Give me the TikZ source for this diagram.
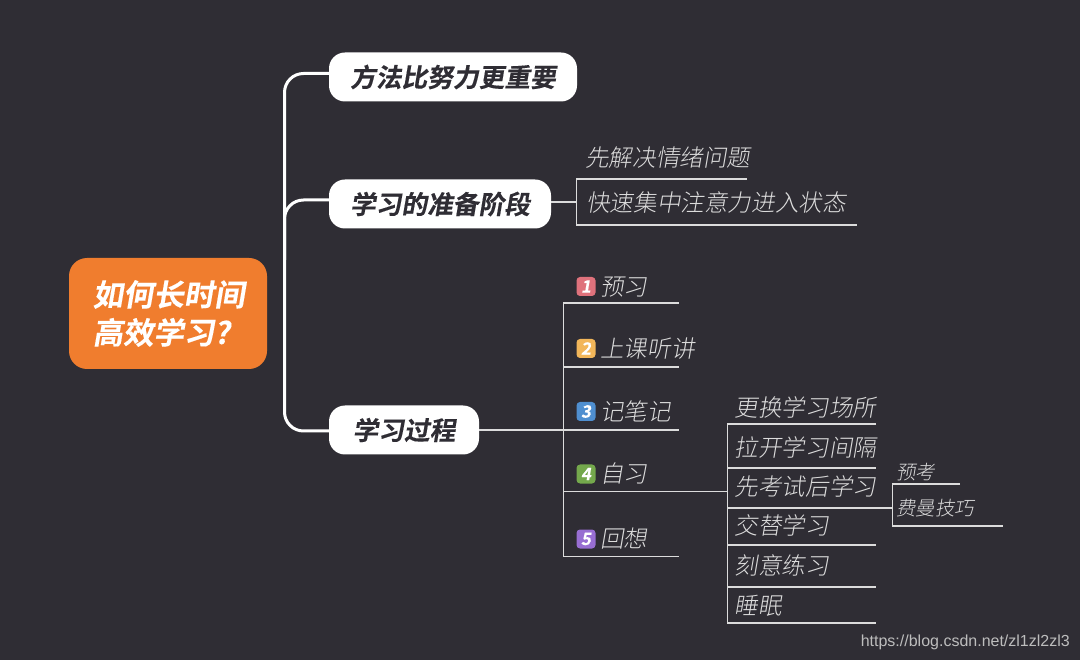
\documentclass[tikz,border=0pt]{standalone}
\usepackage{fontspec}
\setmainfont{Noto Sans CJK SC}
\newfontfamily\slreg[FakeSlant=0.17]{Noto Sans CJK SC Light}
\newfontfamily\slbold[FakeSlant=0.17,FakeBold=0.2]{Noto Sans CJK SC Bold}
\newfontfamily\wm{Liberation Sans}
\definecolor{bgc}{HTML}{2F2D34}
\definecolor{orangec}{HTML}{F07D2E}
\definecolor{linec}{HTML}{DCDCDC}
\definecolor{markc}{HTML}{BDBDBD}
\definecolor{c1}{HTML}{DF727C}
\definecolor{c2}{HTML}{F2B65A}
\definecolor{c3}{HTML}{4F8FD0}
\definecolor{c4}{HTML}{74A84C}
\definecolor{c5}{HTML}{986ED2}
\tikzset{
 x=1pt,y=-1pt,
 main/.style={fill=white,rounded corners=16pt,minimum height=49pt,inner sep=0pt,text=bgc,
   font=\fontsize{25.7}{30}\slbold},
 sub/.style={anchor=base west,text=linec,inner sep=0pt,font=\fontsize{23.6}{28}\slreg},
 small/.style={anchor=base west,text=linec,inner sep=0pt,font=\fontsize{19.5}{24}\slreg},
 badge/.style={rounded corners=3.5pt,minimum size=19pt,inner sep=0pt,text=white,
   font=\fontsize{17}{17}\slbold},
 thick line/.style={draw=white,line width=3pt},
 thin line/.style={draw=linec,line width=1.2pt},
}
\begin{document}
\begin{tikzpicture}
\useasboundingbox[fill=bgc] (0,0) rectangle (1080,660);
% root and main topics
\node[fill=orangec,rounded corners=18pt,minimum width=198pt,minimum height=111pt,inner sep=0pt] (root) at (168,313.5) {};
\node[anchor=base west,inner sep=0pt,text=white,font=\fontsize{30.4}{36}\slbold] (rootA) at (92.5,306) {如何长时间};
\node[anchor=base west,inner sep=0pt,text=white,font=\fontsize{30.4}{36}\slbold] (rootB) at (92.5,344) {高效学习?};
\node[main,minimum width=248pt] (m1) at (453,77) {方法比努力更重要};
\node[main,minimum width=222pt] (m2) at (440,204) {学习的准备阶段};
\node[main,minimum width=150pt] (m3) at (404,430) {学习过程};
% trunk
\coordinate (a1) at (331,73.5);
\coordinate (a2) at (331,200);
\coordinate (a3) at (331,431);
\coordinate (tr1) at (284.5,73.5);
\coordinate (tr2) at (284.5,200);
\coordinate (tr3) at (284.5,431);
\coordinate (tr4) at (284.5,260);
\draw[thick line,rounded corners=19pt] (a2) -- (tr2) -- (tr4);
\draw[thick line,rounded corners=19pt] (a1) -- (tr1) -- (tr3) -- (a3);
% group 2
\coordinate (g2) at (576.5,202);
\coordinate (g2s) at (551,202);
\coordinate (g2a) at (747,179);
\coordinate (g2b) at (857,225);
\coordinate (g2t) at (576.5,179);
\coordinate (g2u) at (576.5,225);
\node[sub] (s1) at (585,167) {先解决情绪问题};
\node[sub] (s2) at (586,212) {快速集中注意力进入状态};
\draw[thin line] (g2s) -- (g2);
\draw[thin line] (g2a) -- (g2t) -- (g2u) -- (g2b);
% group 3
\coordinate (la) at (563.5,303);
\coordinate (lb) at (563.5,367);
\coordinate (ld) at (563.5,491.5);
\coordinate (le) at (563.5,556.5);
\coordinate (ra) at (679,303);
\coordinate (rb) at (679,367);
\coordinate (rc) at (679,430);
\coordinate (rd) at (727.5,491.5);
\coordinate (re) at (679,556.5);
\coordinate (m3e) at (479,430);
\draw[thin line] (m3e) -- (rc);
\draw[thin line] (ra) -- (la) -- (le) -- (re);
\draw[thin line] (lb) -- (rb);
\draw[thin line] (ld) -- (rd);
\node[badge,fill=c1] (b1) at (586,286.5) {1};
\node[badge,fill=c2] (b2) at (586,348.5) {2};
\node[badge,fill=c3] (b3) at (586,411.5) {3};
\node[badge,fill=c4] (b4) at (586,474) {4};
\node[badge,fill=c5] (b5) at (586,539) {5};
\node[sub] (t1) at (600,295.5) {预习};
\node[sub] (t2) at (600,357.5) {上课听讲};
\node[sub] (t3) at (600,420.5) {记笔记};
\node[sub] (t4) at (600,482.5) {自习};
\node[sub] (t5) at (600,547.5) {回想};
% group 4
\coordinate (q0) at (727.5,424);
\coordinate (q0r) at (876,424);
\coordinate (q1) at (727.5,468);
\coordinate (q1r) at (876,468);
\coordinate (q2) at (727.5,508);
\coordinate (q2r) at (892.5,508);
\coordinate (q3) at (727.5,545);
\coordinate (q3r) at (876,545);
\coordinate (q4) at (727.5,587);
\coordinate (q4r) at (876,587);
\coordinate (q5) at (727.5,623);
\coordinate (q5r) at (876,623);
\draw[thin line] (q0r) -- (q0) -- (q5) -- (q5r);
\draw[thin line] (q1) -- (q1r);
\draw[thin line] (q2) -- (q2r);
\draw[thin line] (q3) -- (q3r);
\draw[thin line] (q4) -- (q4r);
\node[sub] (u1) at (734.5,416.5) {更换学习场所};
\node[sub] (u2) at (734.5,456.5) {拉开学习间隔};
\node[sub] (u3) at (734.5,495.5) {先考试后学习};
\node[sub] (u4) at (734.5,534.5) {交替学习};
\node[sub] (u5) at (734.5,574.5) {刻意练习};
\node[sub] (u6) at (734.5,614.5) {睡眠};
% group 5
\coordinate (v0) at (892.5,484);
\coordinate (v0r) at (960,484);
\coordinate (v1) at (892.5,526);
\coordinate (v1r) at (1003,526);
\draw[thin line] (v0r) -- (v0) -- (v1) -- (v1r);
\node[small] (w1) at (896,479) {预考};
\node[small] (w2) at (896,515.5) {费曼技巧};
% watermark
\node[anchor=base east,inner sep=0pt,text=markc,font=\fontsize{16}{18}\wm] (mark) at (1070,646) {https://blog.csdn.net/zl1zl2zl3};
\end{tikzpicture}
\end{document}
